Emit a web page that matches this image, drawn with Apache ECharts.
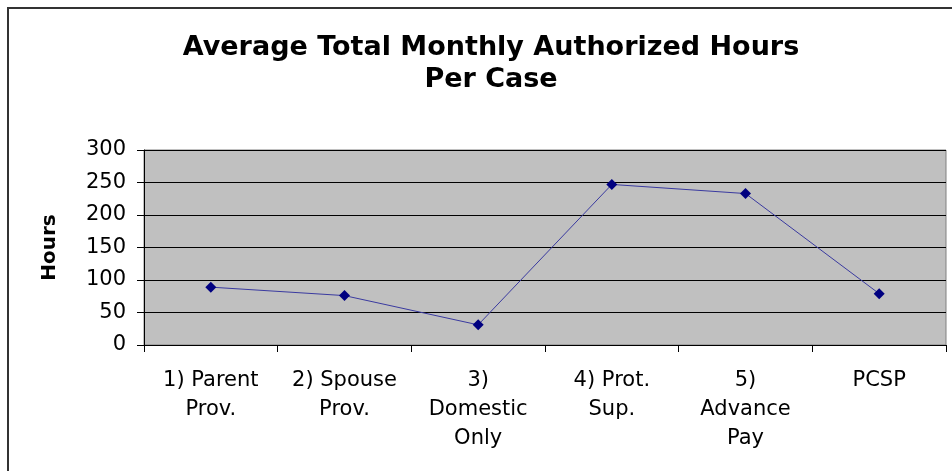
<!DOCTYPE html>
<html>
<head>
<meta charset="utf-8">
<script src="https://cdn.jsdelivr.net/npm/echarts@6/dist/echarts.min.js"></script>
<style>
html, body { margin: 0; padding: 0; background: #fff; }
#main { width: 952px; height: 471px; }
</style>
</head>
<body>
<div id="main"></div>
<script>
var categories = ['1) Parent\nProv.', '2) Spouse\nProv.', '3)\nDomestic\nOnly', '4) Prot.\nSup.', '5)\nAdvance\nPay', 'PCSP'];
var hours = [89, 76, 31, 247, 233, 79];
var yTicks = [0, 50, 100, 150, 200, 250, 300];

var myChart = echarts.init(document.getElementById('main'));

var option = {
    animation: false,
    backgroundColor: '#fff',
    textStyle: { fontFamily: 'DejaVu Sans, sans-serif' },
    title: {
        text: 'Average Total Monthly Authorized Hours\nPer Case',
        left: 486,
        top: 27,
        textAlign: 'center',
        textStyle: {
            fontFamily: 'DejaVu Sans',
            fontSize: 27,
            fontWeight: 'bold',
            color: '#000',
            lineHeight: 32
        }
    },
    // outer frame
    graphic: [{
        type: 'rect',
        shape: { x: 8, y: 8, width: 960, height: 480 },
        style: { fill: 'none', stroke: '#333', lineWidth: 2 },
        silent: true
    }],
    grid: {
        left: 144,
        right: 6,
        top: 150,
        bottom: 126,
        show: true,
        backgroundColor: '#c0c0c0',
        borderColor: '#808080',
        borderWidth: 1
    },
    xAxis: {
        type: 'category',
        data: categories,
        boundaryGap: true,
        axisLine: { lineStyle: { color: '#000', width: 1 } },
        axisTick: { show: true, length: 7, lineStyle: { color: '#000' } },
        axisLabel: {
            color: '#000',
            fontFamily: 'DejaVu Sans',
            fontSize: 21,
            lineHeight: 29,
            margin: 21,
            interval: 0
        }
    },
    yAxis: {
        type: 'value',
        min: yTicks[0],
        max: yTicks[yTicks.length - 1],
        interval: 50,
        name: 'Hours',
        nameLocation: 'middle',
        nameGap: 84,
        nameRotate: 90,
        nameTextStyle: { fontFamily: 'DejaVu Sans', fontSize: 20, fontWeight: 'bold', color: '#000' },
        axisLine: { show: true, lineStyle: { color: '#000' } },
        axisTick: { show: true, length: 7, lineStyle: { color: '#000' } },
        axisLabel: { color: '#000', fontFamily: 'DejaVu Sans', fontSize: 21, margin: 18 },
        splitLine: { show: true, lineStyle: { color: '#000', width: 1 } }
    },
    series: [{
        type: 'line',
        data: hours,
        symbol: 'diamond',
        symbolSize: 11,
        itemStyle: { color: '#000080' },
        lineStyle: { color: '#3a3aa0', width: 1 }
    }]
};

myChart.setOption(option);
</script>
</body>
</html>
